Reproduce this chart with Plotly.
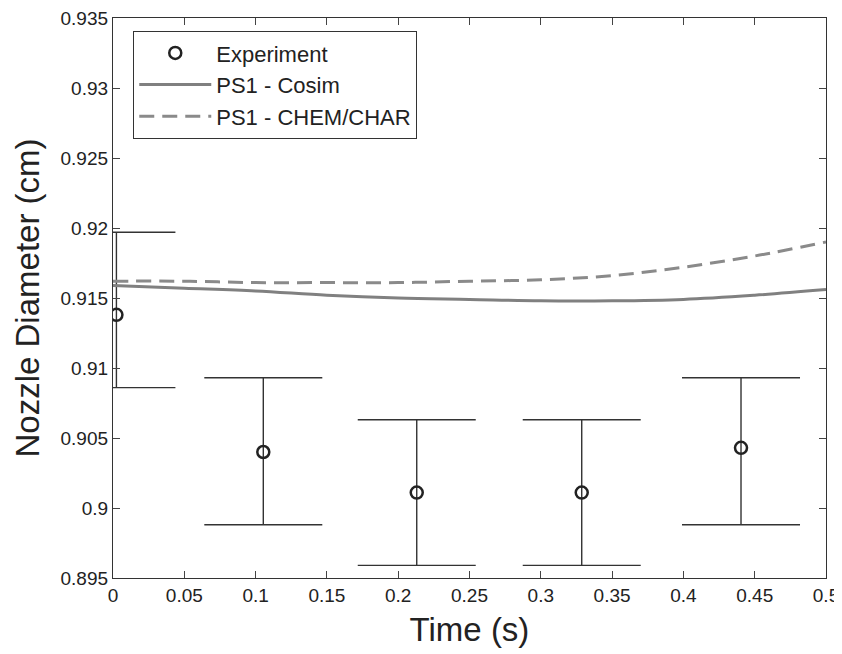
import plotly.graph_objects as go

# Experimental data
exp_time = [0.0024, 0.1054, 0.2130, 0.3287, 0.4404]
exp_diam = [0.9138, 0.9040, 0.9011, 0.9011, 0.9043]
exp_err_plus = [0.0059, 0.0053, 0.0052, 0.0052, 0.0050]
exp_err_minus = [0.0052, 0.0052, 0.0052, 0.0052, 0.0055]

# Simulation curves
sim_time = [0.0, 0.05, 0.1, 0.15, 0.2, 0.25, 0.3, 0.35, 0.4, 0.45, 0.5]
cosim_diam = [0.9159, 0.9157, 0.9155, 0.9152, 0.9150, 0.9149, 0.9148, 0.9148, 0.9149, 0.9152, 0.9156]
chem_diam = [0.9162, 0.9162, 0.9161, 0.9161, 0.9161, 0.9162, 0.9163, 0.9166, 0.9172, 0.9180, 0.9190]

x_ticks = [0, 0.05, 0.1, 0.15, 0.2, 0.25, 0.3, 0.35, 0.4, 0.45, 0.5]
x_tick_labels = ["0", "0.05", "0.1", "0.15", "0.2", "0.25", "0.3", "0.35", "0.4", "0.45", "0.5"]
y_ticks = [0.895, 0.9, 0.905, 0.91, 0.915, 0.92, 0.925, 0.93, 0.935]
y_tick_labels = ["0.895", "0.9", "0.905", "0.91", "0.915", "0.92", "0.925", "0.93", "0.935"]

FONT = "Liberation Sans, Arial, sans-serif"

fig = go.Figure()

fig.add_trace(go.Scatter(
    x=exp_time, y=exp_diam, mode="markers", name="Experiment",
    marker=dict(symbol="circle-open", size=12, color="#222222", line=dict(width=2.5, color="#222222")),
    error_y=dict(type="data", symmetric=False, array=exp_err_plus, arrayminus=exp_err_minus,
                 color="#333333", thickness=1.4, width=59),
))
fig.add_trace(go.Scatter(
    x=sim_time, y=cosim_diam, mode="lines", name="PS1 - Cosim",
    line=dict(color="#808080", width=3, shape="spline"),
))
fig.add_trace(go.Scatter(
    x=sim_time, y=chem_diam, mode="lines", name="PS1 - CHEM/CHAR",
    line=dict(color="#8a8a8a", width=3, dash="15px,8px", shape="spline"),
))

axis_common = dict(
    showgrid=False, zeroline=False, showline=True, linecolor="#333333", linewidth=1.3,
    mirror="allticks", ticks="inside", ticklen=7, tickcolor="#444444", automargin=False,
    ticklabeloverflow="allow",
    tickfont=dict(family=FONT, size=19, color="#222222"),
)

fig.update_xaxes(
    range=[0, 0.5], tickvals=x_ticks, ticktext=x_tick_labels,
    title=dict(text="Time (s)", font=dict(family=FONT, size=33, color="#222222"), standoff=12),
    **axis_common,
)
fig.update_yaxes(
    range=[0.895, 0.935], tickvals=y_ticks, ticktext=y_tick_labels,
    title=dict(text="Nozzle Diameter (cm)", font=dict(family=FONT, size=33, color="#222222"), standoff=10),
    **axis_common,
)

fig.update_layout(
    width=834, height=646,
    margin=dict(l=105, r=16, t=10, b=76),
    paper_bgcolor="white", plot_bgcolor="white",
    showlegend=True,
    legend=dict(
        x=0.028, y=0.977, xanchor="left", yanchor="top",
        bgcolor="white", bordercolor="#333333", borderwidth=1.3,
        font=dict(family=FONT, size=22, color="#222222"),
        itemwidth=72, tracegroupgap=0,
    ),
)

fig.write_html("out.html")
